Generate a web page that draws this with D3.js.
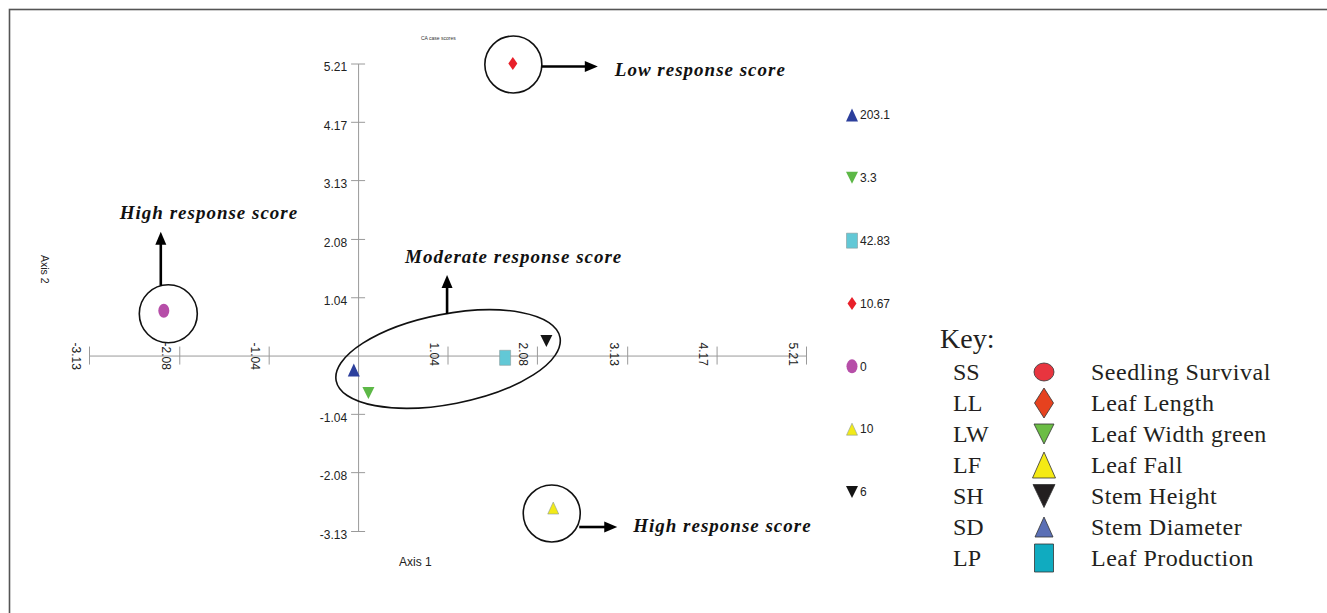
<!DOCTYPE html>
<html>
<head>
<meta charset="utf-8">
<script src="https://cdn.jsdelivr.net/npm/d3@7"></script>
<style>
  body { margin: 0; background: #fff; }
  svg { display: block; }
</style>
</head>
<body>
<svg id="chart"></svg>
<script>
// CA case scores, one point per trait
const codes = ['SS', 'LL', 'LW', 'LF', 'SH', 'SD', 'LP'];
const names = ['Seedling Survival', 'Leaf Length', 'Leaf Width green', 'Leaf Fall',
  'Stem Height', 'Stem Diameter', 'Leaf Production'];
const axis1Scores = [-2.26, 1.80, 0.12, 2.27, 2.19, -0.05, 1.71];
const axis2Scores = [0.80, 5.21, -0.67, -2.72, 0.26, -0.26, -0.04];

// value list printed to the right of the plot
const sideOrder = ['SD', 'LW', 'LP', 'LL', 'SS', 'LF', 'SH'];
const sideValues = ['203.1', '3.3', '42.83', '10.67', '0', '10', '6'];

const tickValues = [-3.13, -2.08, -1.04, 1.04, 2.08, 3.13, 4.17, 5.21];

const groupLabels = ['Low response score', 'High response score',
  'Moderate response score', 'High response score'];
const groupMembers = [['LL'], ['SS'], ['SD', 'LW', 'LP', 'SH'], ['LF']];

// ---- styles ----
const shapes = {SS: 'ellipse', LL: 'diamond', LW: 'triDown', LF: 'triUp',
  SH: 'triDown', SD: 'triUp', LP: 'rect'};
const plotColors = {SS: '#b64ea8', LL: '#e8202a', LW: '#5db847', LF: '#f2ea18',
  SH: '#151515', SD: '#2c3f9c', LP: '#62c8d6'};
const keyColors = {SS: '#e8353f', LL: '#e6421f', LW: '#6bbd45', LF: '#f5ea14',
  SH: '#231f20', SD: '#5a6fb5', LP: '#10abc0'};
const plotSize = {SS: [11, 14], LL: [9, 13], LW: [12, 12], LF: [11, 12],
  SH: [12, 12], SD: [12, 13], LP: [11, 15]};
const keySize = {SS: [20, 18], LL: [19, 30], LW: [20, 20], LF: [23, 26],
  SH: [22, 23], SD: [18, 20], LP: [19, 28]};

const W = 1327, H = 613;
const svg = d3.select('#chart').attr('width', W).attr('height', H);

const x = d3.scaleLinear().domain([-3.13, 5.21]).range([89, 806]);
const y = d3.scaleLinear().domain([-3.13, 5.21]).range([531, 63.5]);
const fmt = d => d.toFixed(2); // plain hyphen for negatives, as in the original

function shapePath(kind, w, h) {
  const a = w / 2, b = h / 2;
  if (kind === 'ellipse') {
    return 'M' + (-a) + ',0A' + a + ',' + b + ' 0 1,0 ' + a + ',0A' + a + ',' + b + ' 0 1,0 ' + (-a) + ',0Z';
  }
  if (kind === 'diamond') return 'M0,' + (-b) + 'L' + a + ',0L0,' + b + 'L' + (-a) + ',0Z';
  if (kind === 'triUp') return 'M0,' + (-b) + 'L' + a + ',' + b + 'L' + (-a) + ',' + b + 'Z';
  if (kind === 'triDown') return 'M' + (-a) + ',' + (-b) + 'L' + a + ',' + (-b) + 'L0,' + b + 'Z';
  return 'M' + (-a) + ',' + (-b) + 'h' + w + 'v' + h + 'h' + (-w) + 'Z';
}

// frame
svg.append('rect')
    .attr('x', 9.5).attr('y', 9.5)
    .attr('width', 1400).attr('height', 700)
    .attr('fill', 'none')
    .attr('stroke', '#555')
    .attr('stroke-width', 1.6);

svg.append('text')
    .attr('x', 421).attr('y', 40)
    .attr('font-family', 'Liberation Sans, Arial, sans-serif')
    .attr('font-size', 5)
    .attr('fill', '#333')
    .text('CA case scores');

// ---- axes ----
const axisColor = '#9a9a9a';
const sans = 'Liberation Sans, Arial, sans-serif';

const yAxis = svg.append('g')
    .attr('transform', 'translate(' + x(0) + ',0)')
    .call(d3.axisLeft(y).tickValues(tickValues).tickSize(7).tickSizeOuter(0)
        .tickPadding(4).tickFormat(fmt));
yAxis.selectAll('.tick line').attr('x1', 7);
yAxis.selectAll('.tick text').attr('dy', '0.62em');

const xAxis = svg.append('g')
    .attr('transform', 'translate(0,' + y(0) + ')')
    .call(d3.axisBottom(x).tickValues(tickValues).tickSize(9).tickSizeOuter(0)
        .tickFormat(fmt));
xAxis.selectAll('.tick line').attr('y1', -9);
xAxis.selectAll('.tick text')
    .attr('transform', 'rotate(90)')
    .attr('text-anchor', 'start')
    .attr('x', -13).attr('y', 18).attr('dy', 0);

[yAxis, xAxis].forEach(g => {
  g.select('.domain').attr('stroke', axisColor);
  g.selectAll('.tick line').attr('stroke', axisColor);
  g.selectAll('.tick text')
      .attr('font-family', sans)
      .attr('font-size', 12)
      .attr('fill', '#222');
});

svg.append('text')
    .attr('x', 399).attr('y', 566)
    .attr('font-family', sans)
    .attr('font-size', 12)
    .attr('fill', '#222')
    .text('Axis 1');

svg.append('text')
    .attr('transform', 'translate(41,255) rotate(90)')
    .attr('font-family', sans)
    .attr('font-size', 10.5)
    .attr('fill', '#222')
    .text('Axis 2');

// ---- points ----
const points = codes.map((c, i) => ({code: c, a1: axis1Scores[i], a2: axis2Scores[i]}));
const byCode = {};
points.forEach(p => { byCode[p.code] = p; });

svg.append('g').selectAll('path')
    .data(points)
    .join('path')
    .attr('transform', d => 'translate(' + x(d.a1) + ',' + y(d.a2) + ')')
    .attr('d', d => shapePath(shapes[d.code], plotSize[d.code][0], plotSize[d.code][1]))
    .attr('fill', d => plotColors[d.code])
    .attr('stroke', d => d.code === 'LF' || d.code === 'LP' ? '#8a9a9a' : 'none')
    .attr('stroke-width', 0.6);

// ---- annotations (circles / ellipse, arrows, labels) ----
// offsets in px relative to the members' centre
const annLayout = [
  {dc: [0.5, 1], r: 28.5, from: [28.5, 2], to: [84.5, 2], text: [101.5, 11]},
  {dc: [4.5, 3], r: 29, from: [-7.5, -28], to: [-7.5, -82], text: [-48.5, -95]},
  {dc: [-2, -8], rx: 114, ry: 45, rot: -11, from: [-1, -45], to: [-1, -84], text: [-43, -96]},
  {dc: [-1.5, 5.5], r: 28.5, from: [27.5, 13.5], to: [65.5, 13.5], text: [81.5, 18.5]}
];

const ann = svg.append('g');

function arrow(g, x1, y1, x2, y2) {
  const len = 13, half = 5.5;
  const ang = Math.atan2(y2 - y1, x2 - x1);
  const bx = x2 - len * Math.cos(ang), by = y2 - len * Math.sin(ang);
  g.append('line')
      .attr('x1', x1).attr('y1', y1)
      .attr('x2', bx + 2 * Math.cos(ang)).attr('y2', by + 2 * Math.sin(ang))
      .attr('stroke', '#000')
      .attr('stroke-width', 2.6);
  g.append('path')
      .attr('d', 'M' + x2 + ',' + y2 +
          'L' + (bx - half * Math.sin(ang)) + ',' + (by + half * Math.cos(ang)) +
          'L' + (bx + half * Math.sin(ang)) + ',' + (by - half * Math.cos(ang)) + 'Z')
      .attr('fill', '#000');
}

groupMembers.forEach((members, i) => {
  const L = annLayout[i];
  const xs = members.map(c => x(byCode[c].a1));
  const ys = members.map(c => y(byCode[c].a2));
  const cx = (d3.min(xs) + d3.max(xs)) / 2 + L.dc[0];
  const cy = (d3.min(ys) + d3.max(ys)) / 2 + L.dc[1];

  if (L.r) {
    ann.append('circle')
        .attr('cx', cx).attr('cy', cy).attr('r', L.r)
        .attr('fill', 'none').attr('stroke', '#111').attr('stroke-width', 1.6);
  } else {
    ann.append('ellipse')
        .attr('transform', 'translate(' + cx + ',' + cy + ') rotate(' + L.rot + ')')
        .attr('rx', L.rx).attr('ry', L.ry)
        .attr('fill', 'none').attr('stroke', '#111').attr('stroke-width', 1.6);
  }

  arrow(ann, cx + L.from[0], cy + L.from[1], cx + L.to[0], cy + L.to[1]);

  ann.append('text')
      .attr('x', cx + L.text[0]).attr('y', cy + L.text[1])
      .attr('font-family', 'Liberation Serif, Times New Roman, serif')
      .attr('font-weight', 'bold')
      .attr('font-style', 'italic')
      .attr('font-size', 19)
      .attr('letter-spacing', 1)
      .attr('fill', '#111')
      .text(groupLabels[i]);
});

// ---- value list on the right ----
const sideY = d3.scalePoint().domain(sideOrder).range([115, 492]);
const side = svg.append('g').attr('transform', 'translate(852,0)');
sideOrder.forEach((c, i) => {
  side.append('path')
      .attr('transform', 'translate(0,' + sideY(c) + ')')
      .attr('d', shapePath(shapes[c], plotSize[c][0], plotSize[c][1]))
      .attr('fill', plotColors[c])
      .attr('stroke', c === 'LF' || c === 'LP' ? '#8a9a9a' : 'none')
      .attr('stroke-width', 0.6);
  side.append('text')
      .attr('x', 8).attr('y', sideY(c))
      .attr('dy', '0.36em')
      .attr('font-family', sans)
      .attr('font-size', 12)
      .attr('fill', '#222')
      .text(sideValues[i]);
});

// ---- key ----
const keyFont = 'Liberation Serif, Times New Roman, serif';
const key = svg.append('g');
key.append('text')
    .attr('x', 940).attr('y', 348)
    .attr('font-family', keyFont)
    .attr('font-size', 28)
    .attr('fill', '#231f20')
    .text('Key:');

const keyY = d3.scalePoint().domain(codes).range([372, 558]);
codes.forEach((c, i) => {
  const yy = keyY(c);
  key.append('text')
      .attr('x', 953).attr('y', yy).attr('dy', '0.35em')
      .attr('font-family', keyFont).attr('font-size', 24)
      .attr('fill', '#231f20')
      .text(c);
  key.append('path')
      .attr('transform', 'translate(1044,' + yy + ')')
      .attr('d', shapePath(shapes[c], keySize[c][0], keySize[c][1]))
      .attr('fill', keyColors[c])
      .attr('stroke', '#333')
      .attr('stroke-width', 0.8);
  key.append('text')
      .attr('x', 1091).attr('y', yy).attr('dy', '0.35em')
      .attr('font-family', keyFont).attr('font-size', 24)
      .attr('letter-spacing', 0.5)
      .attr('fill', '#231f20')
      .text(names[i]);
});
</script>
</body>
</html>
